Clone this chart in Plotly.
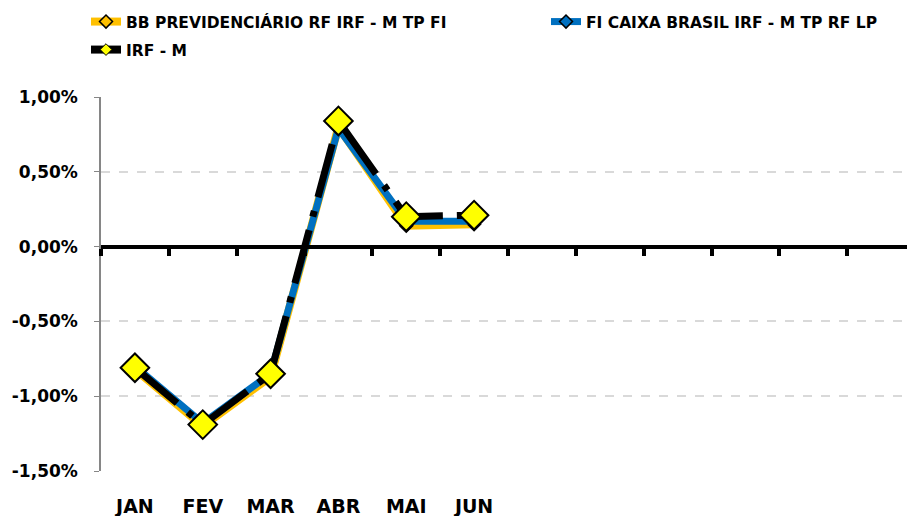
import plotly.graph_objects as go

# ---- data ----
months_all = ["JAN", "FEV", "MAR", "ABR", "MAI", "JUN", "JUL", "AGO", "SET", "OUT", "NOV", "DEZ"]
months = ["JAN", "FEV", "MAR", "ABR", "MAI", "JUN"]
bb_prev = [-0.82, -1.20, -0.87, 0.80, 0.14, 0.15]
fi_caixa = [-0.80, -1.18, -0.85, 0.79, 0.17, 0.17]
irf_m = [-0.81, -1.19, -0.85, 0.84, 0.20, 0.21]
y_ticks = [-1.5, -1.0, -0.5, 0.0, 0.5, 1.0]
y_tick_labels = ["-1,50%", "-1,00%", "-0,50%", "0,00%", "0,50%", "1,00%"]

names = ["BB PREVIDENCIÁRIO RF IRF - M TP FI", "FI CAIXA BRASIL IRF - M TP RF LP", "IRF - M"]

FONT = "'DejaVu Sans', sans-serif"
Y_MIN, Y_MAX = y_ticks[0], y_ticks[-1]

fig = go.Figure()

fig.add_trace(go.Scatter(
    x=months, y=bb_prev, name=names[0], mode="lines+markers",
    line=dict(color="#FFC000", width=8),
    marker=dict(symbol="diamond", size=10, color="#FFC000", line=dict(color="black", width=1.5)),
    legend="legend",
))
fig.add_trace(go.Scatter(
    x=months, y=fi_caixa, name=names[1], mode="lines+markers",
    line=dict(color="#0070C0", width=7),
    marker=dict(symbol="diamond", size=10, color="#0070C0", line=dict(color="black", width=1.5)),
    legend="legend2",
))
fig.add_trace(go.Scatter(
    x=months, y=irf_m, name=names[2], mode="lines+markers",
    line=dict(color="black", width=7, dash="55px,14px,6px,14px"),
    marker=dict(symbol="diamond", size=22, color="#FFFF00", line=dict(color="black", width=2)),
    showlegend=False, legendgroup="irf",
))
# legend entry for IRF - M (solid line, small marker as in the reference legend)
fig.add_trace(go.Scatter(
    x=[None], y=[None], name=names[2], mode="lines+markers",
    line=dict(color="black", width=8),
    marker=dict(symbol="diamond", size=9, color="#FFFF00", line=dict(color="black", width=1)),
    legend="legend3", legendgroup="irf", hoverinfo="skip",
))

boundaries = [i - 0.5 for i in range(len(months_all) + 1)]
# empty trace so the zero-crossing category axis gets drawn
fig.add_trace(go.Scatter(x=[None], y=[None], xaxis="x2", showlegend=False, hoverinfo="skip"))

W, H = 907, 508  # page body has an 8px margin

leg_font = dict(size=15.5, family=FONT, weight="bold", color="black")

fig.update_layout(
    width=W, height=H,
    margin=dict(l=93, r=0, t=89, b=45, autoexpand=False),
    paper_bgcolor="white", plot_bgcolor="white",
    font=dict(family=FONT, color="black", size=17, weight="bold"),
    xaxis=dict(
        type="category", categoryarray=months_all, categoryorder="array",
        range=[-0.5, len(months_all) - 0.5],
        tickvals=months, ticktext=months,
        showline=False, showgrid=False, zeroline=False, ticks="",
        tickfont=dict(size=19, family=FONT, weight="bold"),
        ticklabelstandoff=22, automargin=False,
    ),
    xaxis2=dict(
        overlaying="x", anchor="free",
        position=(0 - Y_MIN) / (Y_MAX - Y_MIN),
        type="linear", range=[-0.5, len(months_all) - 0.5],
        tickvals=boundaries, showticklabels=False,
        showline=True, linecolor="black", linewidth=4,
        ticks="outside", ticklen=7, tickwidth=3.5, tickcolor="black",
        showgrid=False, zeroline=False, automargin=False,
    ),
    yaxis=dict(
        range=[Y_MIN, Y_MAX], tickvals=y_ticks, ticktext=y_tick_labels,
        showgrid=True, gridcolor="#D9D9D9", gridwidth=1.5, griddash="dash",
        showline=True, linecolor="#868686", linewidth=1.5,
        ticks="outside", ticklen=5, tickcolor="#868686",
        zeroline=False,
        tickfont=dict(size=17, family=FONT, weight="bold"),
        ticklabelstandoff=13, automargin=False,
    ),
    legend=dict(
        orientation="h", xref="container", yref="container",
        x=78 / W, y=1 - 14 / H, xanchor="left", yanchor="middle",
        font=leg_font, bgcolor="rgba(0,0,0,0)",
    ),
    legend2=dict(
        orientation="h", xref="container", yref="container",
        x=538 / W, y=1 - 14 / H, xanchor="left", yanchor="middle",
        font=leg_font, bgcolor="rgba(0,0,0,0)",
    ),
    legend3=dict(
        orientation="h", xref="container", yref="container",
        x=78 / W, y=1 - 42 / H, xanchor="left", yanchor="middle",
        font=leg_font, bgcolor="rgba(0,0,0,0)",
    ),
)

fig.write_html("out.html")
